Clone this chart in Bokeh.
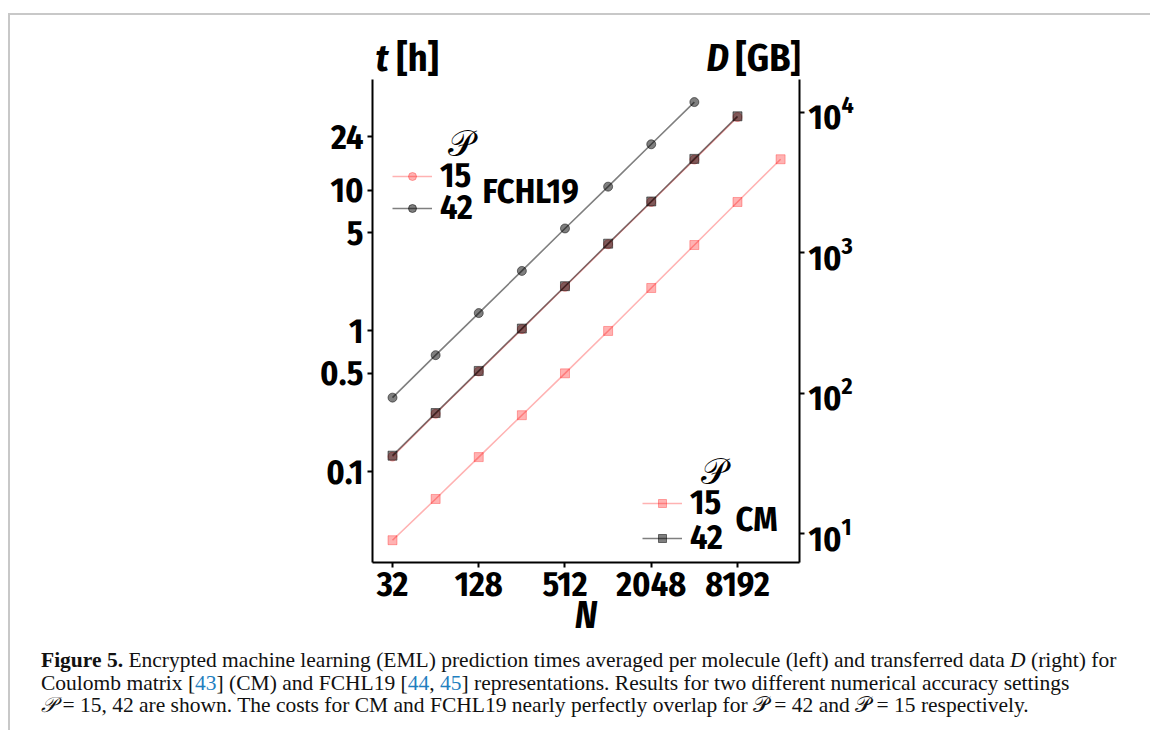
from bokeh.plotting import figure
from bokeh.models import (Range1d, LogAxis, FixedTicker, CustomJSTickFormatter, Label,
                          Legend, LegendItem, Div, LogScale)
from bokeh.layouts import column
from bokeh.embed import file_html
from bokeh.resources import INLINE

# ---------------- data ----------------
N_cm15 = [32, 64, 128, 256, 512, 1024, 2048, 4096, 8192, 16384]
t_cm15 = [0.0326, 0.064, 0.127, 0.252, 0.50, 1.0, 2.02, 4.08, 8.25, 16.6]
N_cm42 = [32, 64, 128, 256, 512, 1024, 2048, 4096, 8192]
t_cm42 = [0.130, 0.261, 0.520, 1.04, 2.08, 4.17, 8.32, 16.7, 33.5]
N_fchl15 = [32, 64, 128, 256, 512, 1024, 2048, 4096, 8192]
t_fchl15 = [0.128, 0.258, 0.515, 1.03, 2.06, 4.13, 8.25, 16.5, 33.1]
N_fchl42 = [32, 64, 128, 256, 512, 1024, 2048, 4096]
t_fchl42 = [0.336, 0.673, 1.34, 2.67, 5.35, 10.6, 21.2, 42.3]

x_ticks = [32, 128, 512, 2048, 8192]
t_ticks = [0.1, 0.5, 1, 5, 10, 24]
D_ticks = [10, 100, 1000, 10000]
precisions = ["15", "42"]

FONT = "'Fira Sans Condensed', 'Roboto Condensed', sans-serif"
TICK_FS = "34px"
LAB_FS = "38px"
PINK = "red"
PINK_A = 0.3
GRAY = "black"
GRAY_A = 0.5

p = figure(width=1130, height=625, x_axis_type="log", y_axis_type="log",
           x_range=Range1d(23.2, 22200), y_range=Range1d(0.02264, 125.7),
           output_backend="svg", toolbar_location=None,
           min_border_left=362, min_border_right=341, min_border_top=20,
           min_border_bottom=77)
p.grid.visible = False
p.outline_line_color = None
p.background_fill_color = "white"
p.border_fill_color = "white"

p.extra_y_ranges = {"D": Range1d(6.22, 35270)}
p.extra_y_scales = {"D": LogScale()}
raxis = LogAxis(y_range_name="D", ticker=FixedTicker(ticks=D_ticks), bounds=(6.22, 17164))
p.add_layout(raxis, "right")

p.xaxis.ticker = FixedTicker(ticks=x_ticks)
p.yaxis[0].ticker = FixedTicker(ticks=t_ticks)
p.yaxis[0].bounds = (0.02264, 61.2)
p.xaxis.formatter = CustomJSTickFormatter(code="return String(tick);")
p.yaxis[0].formatter = CustomJSTickFormatter(code="return String(tick);")
p.xaxis.axis_label = "N"
p.xaxis.axis_label_text_font = FONT
p.xaxis.axis_label_text_font_style = "bold italic"
p.xaxis.axis_label_text_font_size = LAB_FS
p.xaxis.axis_label_text_color = "black"
p.xaxis.axis_label_standoff = -7

for ax in [p.xaxis[0], p.yaxis[0], raxis]:
    ax.axis_line_width = 2
    ax.axis_line_color = "black"
    ax.major_tick_line_width = 2
    ax.major_tick_out = 5
    ax.major_tick_in = 0
    ax.minor_tick_line_color = None
    ax.major_label_text_font = FONT
    ax.major_label_text_font_style = "bold"
    ax.major_label_text_font_size = TICK_FS
    ax.major_label_text_color = "black"
    ax.major_label_standoff = 4

# ---------------- series ----------------
def series(N, t, color, alpha, marker, size):
    ln = p.line(N, t, line_color=color, line_alpha=alpha, line_width=1.6)
    sc = p.scatter(N, t, marker=marker, size=size, fill_color=color, fill_alpha=alpha,
                   line_color=color, line_alpha=alpha, line_width=1)
    return [ln, sc]

r_f15 = series(N_fchl15, t_fchl15, PINK, PINK_A, "circle", 9)
r_f42 = series(N_fchl42, t_fchl42, GRAY, GRAY_A, "circle", 9)
r_c15 = series(N_cm15, t_cm15, PINK, PINK_A, "square", 9)
r_c42 = series(N_cm42, t_cm42, GRAY, GRAY_A, "square", 9)

def make_legend(label, renderers, loc):
    lg = Legend(items=[LegendItem(label=label, renderers=renderers)], location=loc,
                border_line_color=None, background_fill_alpha=0, padding=0, margin=0,
                spacing=0, glyph_width=40, glyph_height=20, label_standoff=8,
                label_text_font=FONT, label_text_font_style="bold",
                label_text_color="black", label_text_font_size=TICK_FS, label_height=20)
    p.add_layout(lg, "center")
    return lg

# FCHL19 legend (one Legend per entry to control the row spacing)
make_legend(precisions[0], r_f15, (20, 366))
make_legend(precisions[1], r_f42, (20, 334))
# CM legend
make_legend(precisions[0], r_c15, (270, 39))
make_legend(precisions[1], r_c42, (270, 4))

def lab(x, y, text, style="bold", size=LAB_FS, align="left", baseline="middle", font=FONT):
    p.add_layout(Label(x=x, y=y, x_units="screen", y_units="screen", text=text,
                       text_font=font, text_font_style=style, text_font_size=size,
                       text_align=align, text_baseline=baseline, text_color="black"))

lab(3, 505, "t", style="bold italic")
lab(24, 505, "[h]")
lab(334, 505, "D", style="bold italic")
lab(363, 505, "[GB]")
lab(75, 419, "\U0001D4AB", style="normal", size="36px", font="DejaVu Serif")
lab(110, 371, "FCHL19", size=TICK_FS)
lab(328, 91, "\U0001D4AB", style="normal", size="36px", font="DejaVu Serif")
lab(363, 43, "CM", size=TICK_FS)

caption = Div(text=(
    '<b>Figure 5.</b> Encrypted machine learning (EML) prediction times averaged per molecule '
    '(left) and transferred data <i>D</i> (right) for<br>Coulomb matrix [<span style="color:#1f7fbf">43</span>] '
    '(CM) and FCHL19 [<span style="color:#1f7fbf">44</span>, <span style="color:#1f7fbf">45</span>] '
    'representations. Results for two different numerical accuracy settings'
    '<br><i>\U0001D4AB</i> = 15, 42 are shown. The costs for CM and FCHL19 nearly perfectly overlap for '
    '\U0001D4AB = 42 and \U0001D4AB = 15 respectively.'),
    width=1130, height=80,
    styles={"font-family": "Liberation Serif", "font-size": "21.5px", "line-height": "22.5px",
            "color": "#111", "padding-left": "26px", "padding-top": "4px", "white-space": "nowrap"})

layout = column(p, caption, margin=(13, 0, 0, 8),
                styles={"border-top": "2px solid #c8c8c8", "border-left": "2px solid #c8c8c8"})

open("out.html", "w").write(file_html(layout, INLINE))
